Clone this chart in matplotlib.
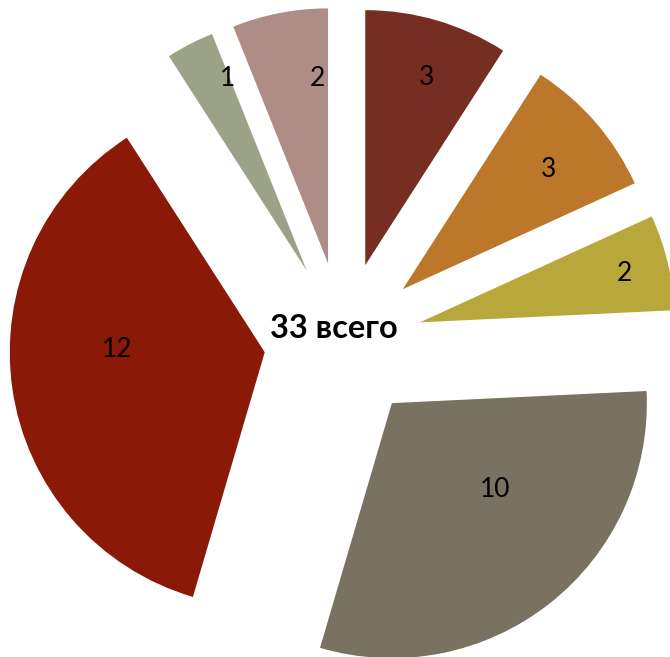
import numpy as np
import matplotlib.pyplot as plt

# данные диаграммы (по часовой стрелке от 12 часов)
values = [3, 3, 2, 10, 12, 1, 2]
colors = ['#772e22', '#bc772b', '#b8a73b', '#797261', '#8a1a07', '#9ca287', '#ae8d87']
total_label = f"{sum(values)} всего"

# где стоят подписи: расстояние от вершины сектора (доля радиуса) и угол
label_dist = [0.79, 0.75, 0.83, 0.52, 0.58, 0.83, 0.74]
label_angle = [72.2, 40.1, 14.5, -38.6, 177.3, 111.9, 93.3]

fig = plt.figure(figsize=(6.7, 6.57), dpi=100)
ax = fig.add_axes([0, 0, 1, 1])

explode = [0.31] * len(values)
wedges, _ = ax.pie(values, colors=colors, startangle=90, counterclock=False,
                   explode=explode, radius=1.0,
                   wedgeprops=dict(linewidth=0))

for w, v, d, a in zip(wedges, values, label_dist, label_angle):
    ang = np.deg2rad(a)
    cx, cy = w.center
    ax.text(cx + d * np.cos(ang), cy + d * np.sin(ang) - 0.015, str(v),
            ha='center', va='center', fontsize=19, family='Lato', color='black')

ax.text(-0.035, 0.05, total_label, ha='center', va='center',
        fontsize=23.5, fontweight='bold', family='Lato', color='black')

# 1 единица = 255 px, центр круга в (343, 341) px
ax.set_xlim(-343 / 255, (670 - 343) / 255)
ax.set_ylim(-(657 - 341) / 255, 341 / 255)
ax.set_aspect('auto')
ax.axis('off')

fig.savefig('out.png', dpi=100)
